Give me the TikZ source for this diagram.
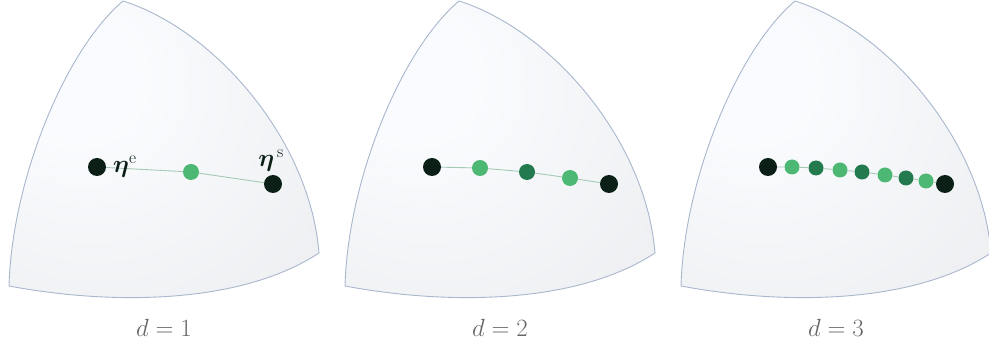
\documentclass[tikz,border=0pt]{standalone}
\usepackage{amsmath,bm}
\definecolor{dotblack}{HTML}{0B1F16}
\definecolor{lgreen}{HTML}{4DB873}
\definecolor{dgreen}{HTML}{237A4E}
\definecolor{geoline}{HTML}{A6C9B5}
\definecolor{edge}{HTML}{A9B7CD}
\definecolor{labgray}{HTML}{666666}
\pgfdeclareradialshading{panelshade}{\pgfpoint{-16bp}{14bp}}{rgb(0bp)=(.98,.985,.995); rgb(10bp)=(.98,.985,.995); rgb(68bp)=(.895,.9,.91); rgb(95bp)=(.895,.9,.91)}
\tikzset{
  surf/.style={draw=edge, line width=0.9pt, shading=panelshade},
  endpt/.style={circle, fill=dotblack, inner sep=0pt, minimum size=18pt},
  gdot/.style={circle, fill=lgreen, inner sep=0pt, minimum size=16pt},
  ddot/.style={circle, fill=dgreen, inner sep=0pt, minimum size=16pt},
  geo/.style={draw=geoline, line width=0.9pt},
  captxt/.style={text=labgray, font=\fontsize{27}{31}\selectfont},
  etalab/.style={font=\fontsize{25}{29}\selectfont, text=dotblack, inner sep=0pt}
}
\begin{document}
\begin{tikzpicture}[x=1pt, y=-1pt]
\useasboundingbox (0,0) rectangle (989,347);
% ---------- panel 1 ----------
\begin{scope}
\shade[surf] (9,286) .. controls (12,180) and (65,50) .. (123,1)
  .. controls (215,30) and (310,140) .. (319,253)
  .. controls (240,305) and (110,305) .. (9,286) -- cycle;
\node[endpt] (a1) at (97,167) {};
\node[gdot] (a2) at (191,172) {};
\node[endpt] (a3) at (273,184) {};
\draw[geo] (a1) -- (a2) -- (a3);
\node[etalab, anchor=west] (le) at (113,167) {$\bm{\eta}^{\mathrm{e}}$};
\node[etalab] (ls) at (271,161) {$\bm{\eta}^{\,\mathrm{s}}$};
\node[captxt] (c1) at (164,328) {$d=1$};
\end{scope}
% ---------- panel 2 ----------
\begin{scope}[xshift=336pt]
\shade[surf] (9,286) .. controls (12,180) and (65,50) .. (123,1)
  .. controls (215,30) and (310,140) .. (319,253)
  .. controls (240,305) and (110,305) .. (9,286) -- cycle;
\node[endpt] (b1) at (96,167) {};
\node[gdot] (b2) at (144,168) {};
\node[ddot] (b3) at (191,172) {};
\node[gdot] (b4) at (234,178) {};
\node[endpt] (b5) at (273,184) {};
\draw[geo] (b1) -- (b2) -- (b3) -- (b4) -- (b5);
\node[captxt] (c2) at (164,328) {$d=2$};
\end{scope}
% ---------- panel 3 ----------
\begin{scope}[xshift=672pt]
\shade[surf] (9,286) .. controls (12,180) and (65,50) .. (123,1)
  .. controls (215,30) and (310,140) .. (319,253)
  .. controls (240,305) and (110,305) .. (9,286) -- cycle;
\node[endpt] (e1) at (96,167) {};
\node[gdot, minimum size=15pt] (e2) at (120,167) {};
\node[ddot, minimum size=15pt] (e3) at (144,168) {};
\node[gdot, minimum size=15pt] (e4) at (168,170) {};
\node[ddot, minimum size=15pt] (e5) at (190,172) {};
\node[gdot, minimum size=15pt] (e6) at (213,175) {};
\node[ddot, minimum size=15pt] (e7) at (234,178) {};
\node[gdot, minimum size=15pt] (e8) at (254,181) {};
\node[endpt] (e9) at (273,184) {};
\draw[geo] (e1) -- (e2) -- (e3) -- (e4) -- (e5) -- (e6) -- (e7) -- (e8) -- (e9);
\node[captxt] (c3) at (164,328) {$d=3$};
\end{scope}
\end{tikzpicture}
\end{document}
